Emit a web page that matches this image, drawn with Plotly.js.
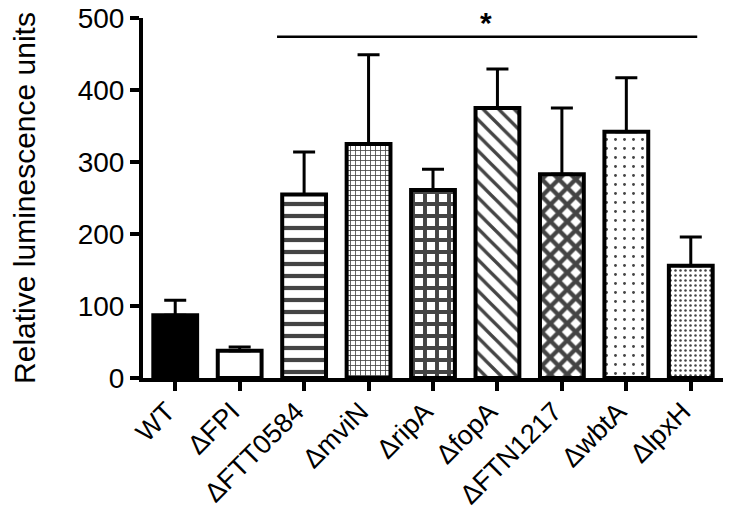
<!DOCTYPE html>
<html>
<head>
<meta charset="utf-8">
<script src="https://cdn.plot.ly/plotly-3.0.1.min.js"></script>
<style>
  html, body { margin: 0; padding: 0; background: #fff; }
  #chart { width: 732px; height: 513px; }
</style>
</head>
<body>
<div id="chart"></div>
<script>
  // strains and luminescence readings (mean + upper SD)
  var strains = ['WT', 'ΔFPI', 'ΔFTT0584', 'ΔmviN', 'ΔripA', 'ΔfopA', 'ΔFTN1217', 'ΔwbtA', 'ΔlpxH'];
  var means = [87, 38, 255, 325, 261, 375, 283, 342, 156];
  var sdUp = [21, 5, 59, 124, 29, 54, 92, 75, 40];

  // fill styles per bar
  var fills = ['#000000', '#ffffff', '#ffffff', '#ffffff', '#ffffff', '#ffffff', '#ffffff', '#ffffff', '#ffffff'];
  var shapes = ['', '', '-', '+', '+', '\\', 'x', '.', '.'];
  var sizes = [8, 8, 12, 5, 12, 11, 12, 9, 5];
  var solid = [0.3, 0.3, 0.35, 0.3, 0.55, 0.3, 0.6, 0.08, 0.2];

  var font = 'Arial, "Liberation Sans", sans-serif';

  var bars = {
    type: 'bar',
    x: strains,
    y: means,
    marker: {
      color: fills,
      line: {color: '#000', width: 4},
      pattern: {
        shape: shapes,
        size: sizes,
        solidity: solid,
        fgcolor: '#000',
        fgopacity: 1,
        fillmode: 'overlay'
      }
    },
    error_y: {
      type: 'data',
      symmetric: false,
      array: sdUp,
      arrayminus: means.map(function() { return 0; }),
      color: '#000',
      thickness: 3,
      width: 11
    },
    hoverinfo: 'x+y'
  };

  var layout = {
    width: 732,
    height: 513,
    margin: {l: 143, r: 9, t: 18, b: 135},
    paper_bgcolor: '#fff',
    plot_bgcolor: '#fff',
    showlegend: false,
    bargap: 0.32,
    font: {family: font, color: '#000'},
    xaxis: {
      type: 'category',
      range: [-0.5, 8.5],
      showline: true,
      linecolor: '#000',
      linewidth: 4,
      ticks: 'outside',
      ticklen: 9,
      tickwidth: 4,
      tickcolor: '#000',
      tickangle: -45,
      tickfont: {size: 27, family: font},
      ticklabelshift: -8,
      ticklabelstandoff: -6,
      showgrid: false,
      zeroline: false
    },
    yaxis: {
      range: [0, 500],
      tickvals: [0, 100, 200, 300, 400, 500],
      showline: true,
      linecolor: '#000',
      linewidth: 4,
      ticks: 'outside',
      ticklen: 9,
      tickwidth: 4,
      tickcolor: '#000',
      tickfont: {size: 28, family: font},
      showgrid: false,
      zeroline: false,
      title: {text: 'Relative luminescence units', font: {size: 30, family: font}, standoff: 34}
    },
    shapes: [{
      type: 'line', xref: 'x', yref: 'y',
      x0: 1.58, x1: 8.1, y0: 474, y1: 474,
      line: {color: '#000', width: 2.5}
    }],
    annotations: [{
      x: 4.83, y: 494, xref: 'x', yref: 'y',
      text: '<b>*</b>', showarrow: false,
      font: {size: 30, family: font, color: '#000'},
      yanchor: 'middle'
    }]
  };

  Plotly.newPlot('chart', [bars], layout, {displayModeBar: false, staticPlot: true});
</script>
</body>
</html>
